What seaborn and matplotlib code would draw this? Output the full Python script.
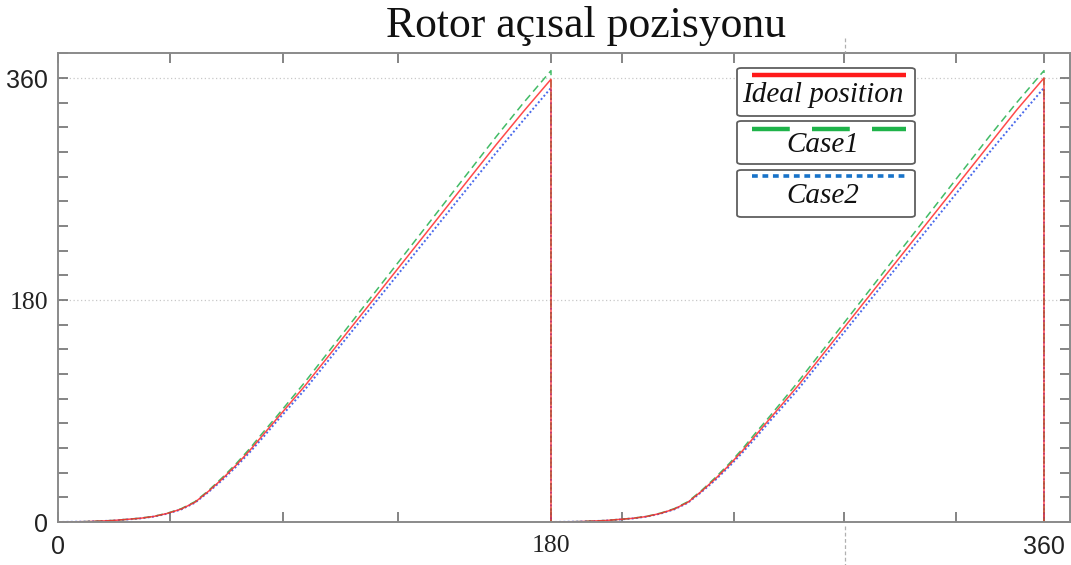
import numpy as np
import pandas as pd
import matplotlib
matplotlib.use("Agg")
import matplotlib.pyplot as plt
import seaborn as sns
from matplotlib.lines import Line2D
from matplotlib.patches import FancyBboxPatch
from matplotlib.ticker import FixedLocator, MultipleLocator

# ---------------- data ----------------
x_cycle1 = [0, 10, 20, 30, 35, 40, 45, 50, 55, 60, 65, 70, 75, 80, 85, 90,
            100, 110, 120, 130, 140, 150, 160, 170, 180, 180]
x_cycle2 = [180, 190, 200, 210, 215, 220, 225, 230, 235, 240, 245, 250, 255, 260, 265, 270,
            280, 290, 300, 310, 320, 330, 340, 350, 360, 360]

ideal_c1 = [0, 0.3, 1.2, 3, 4.5, 7, 10.5, 16, 25, 35, 46, 58, 71, 84, 97, 110,
            138, 166, 194, 222, 250, 278, 306, 333, 359, 0]
case1_c1 = [0, 0.3, 1.2, 3.1, 4.6, 7.2, 10.8, 16.5, 25.6, 36, 47.2, 59.5, 73, 86, 99.5, 113,
            141.5, 170, 198.5, 227, 255.5, 284, 312.5, 340, 366, 0]
case2_c1 = [0, 0.3, 1.1, 2.9, 4.4, 6.8, 10.2, 15.6, 24.4, 34, 44.8, 56.5, 69, 82, 94.5, 107,
            134.5, 162, 189.5, 217, 244.5, 272, 299.5, 326, 352, 0]

ideal_c2 = [0, 0.3, 1.2, 3, 4.5, 7, 10.5, 16, 25, 35, 46, 58, 71, 84, 97, 110,
            138, 166, 194, 222, 250, 278, 306, 334, 360, 0]
case1_c2 = [0, 0.3, 1.2, 3.1, 4.6, 7.2, 10.8, 16.5, 25.6, 36, 47.2, 59.5, 73, 86, 99.5, 113,
            141.5, 170, 198.5, 227, 255.5, 284, 312.5, 340, 366, 0]
case2_c2 = [0, 0.3, 1.1, 2.9, 4.4, 6.8, 10.2, 15.6, 24.4, 34, 44.8, 56.5, 69, 82, 94.5, 107,
            134.5, 162, 189.5, 217, 244.5, 272, 299.5, 326, 352, 0]

series_names = ["Ideal position", "Case1", "Case2"]
x_major = [0, 180, 360]
x_minor = [41, 82, 124, 206, 247, 287, 328]
y_major = [0, 180, 360]
title_text = "Rotor açısal pozisyonu"

# ---------------- figure ----------------
sns.set_style("white")
plt.rcParams["font.family"] = ["Liberation Serif", "DejaVu Serif"]

W, H = 1071, 565
fig = plt.figure(figsize=(W / 100, H / 100), dpi=100)
L, R, T, B = 58, 1070, 53, 522
ax = fig.add_axes([L / W, 1 - B / H, (R - L) / W, (B - T) / H])

colors = {"Ideal position": "#ff2a2a", "Case1": "#22b04c", "Case2": "#2a4fe8"}
styles = {"Ideal position": (None, 1.1), "Case1": ((0, (5, 3)), 1.1), "Case2": ((0, (1, 1.2)), 1.4)}

x_all = x_cycle1 + x_cycle2
vals = {
    "Ideal position": ideal_c1 + ideal_c2,
    "Case1": case1_c1 + case1_c2,
    "Case2": case2_c1 + case2_c2,
}
order = ["Case2", "Case1", "Ideal position"]
for name in order:
    df = pd.DataFrame({"x": x_all, "y": vals[name]})
    ls, lw = styles[name]
    line_kws = dict(color=colors[name], lw=lw, alpha=0.85)
    if ls is not None:
        line_kws["linestyle"] = ls
    sns.lineplot(data=df, x="x", y="y", estimator=None, sort=False, ax=ax, **line_kws)

ax.set_xlim(0, 369.5)
ax.set_ylim(0, 380.3)
ax.set_xlabel("")
ax.set_ylabel("")

ax.xaxis.set_major_locator(FixedLocator(x_major))
ax.xaxis.set_minor_locator(FixedLocator(x_minor))
ax.yaxis.set_major_locator(FixedLocator(y_major))
ax.yaxis.set_minor_locator(MultipleLocator(20))
ax.set_xticklabels([str(v) for v in x_major])
ax.set_yticklabels([str(v) for v in y_major])

spine_col = "#8a8a8a"
for s in ax.spines.values():
    s.set_color(spine_col)
    s.set_linewidth(1.4)
ax.tick_params(which="both", direction="in", top=True, right=True, bottom=True, left=True,
               color="#707070", width=1.2, length=7.5, labelsize=18, labelcolor="#222222")
ax.tick_params(axis="x", which="major", pad=9)
ax.tick_params(axis="y", which="major", pad=7)
ax.grid(False)
for yv in y_major[1:]:
    ax.axhline(yv, color="#c8c8c8", lw=0.9, ls=(0, (1, 2)), zorder=0)

# mixed tick label fonts as in the reference
for lab in ax.get_xticklabels() + ax.get_yticklabels():
    if lab.get_text() in ("0", "360"):
        lab.set_family(["Liberation Sans", "DejaVu Sans"])
        lab.set_fontsize(18)
    else:
        lab.set_family(["Liberation Serif", "DejaVu Serif"])
        lab.set_fontsize(18.5)

# title
fig.text(586 / W, 1 - 26 / H, title_text, ha="center", va="center", fontsize=31.5,
         family=["Liberation Serif", "DejaVu Serif"], color="#111111")

# faint dashed guide line outside the axes
for y0, y1 in [(38, 52), (526, 565)]:
    fig.add_artist(Line2D([845 / W, 845 / W], [1 - y0 / H, 1 - y1 / H],
                          transform=fig.transFigure, color="#b0b0b0", lw=0.9, ls=(0, (3, 2))))

# custom legend: three boxes, sample line above text
fx = lambda p: p / W
fy = lambda p: 1 - p / H
boxes = [(68, 116, 74.5, 95), (121, 164, 128.7, 145), (170, 217, 175.7, 195.5)]
leg_styles = {
    "Ideal position": dict(color="#ff1a1a", lw=3.2, ls="-", solid_capstyle="butt"),
    "Case1": dict(color="#1fb34a", lw=3.2, ls=(0, (8.5, 5))),
    "Case2": dict(color="#1873c9", lw=2.6, ls=(0, (1.6, 1.3))),
}
for name, (ytop, ybot, yline, ytext) in zip(series_names, boxes):
    box = FancyBboxPatch((fx(737), fy(ybot)), fx(915) - fx(737), fy(ytop) - fy(ybot),
                         boxstyle="round,pad=0,rounding_size=0.004",
                         transform=fig.transFigure, facecolor="white",
                         edgecolor="#5f5f5f", lw=1.3, zorder=5)
    fig.add_artist(box)
    fig.add_artist(Line2D([fx(752), fx(906)], [fy(yline), fy(yline)],
                          transform=fig.transFigure, zorder=6, **leg_styles[name]))
    fig.text(fx(823), fy(ytext), name, ha="center", va="center", fontsize=21,
             style="italic", family=["Liberation Serif", "DejaVu Serif"],
             color="#111111", zorder=7)

fig.savefig("out.png", dpi=100)
